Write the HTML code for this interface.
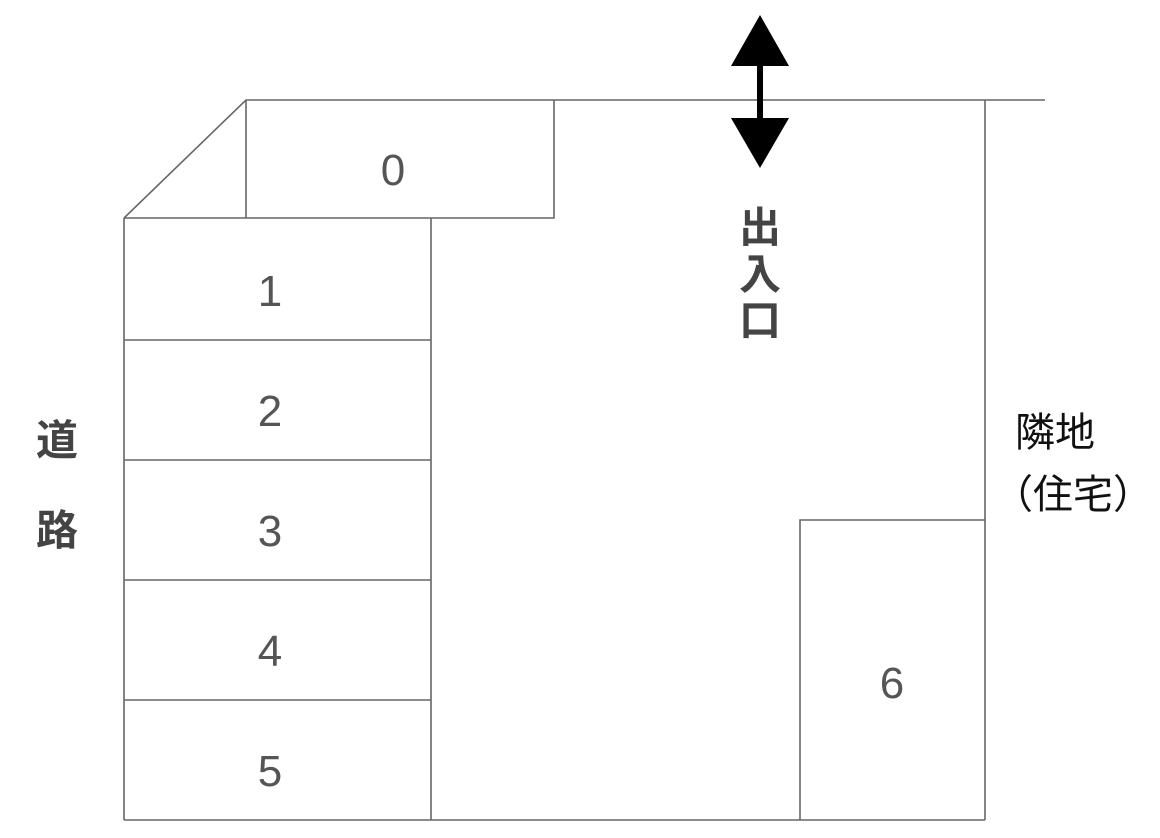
<!DOCTYPE html>
<html><head><meta charset="utf-8"><style>
html,body{margin:0;padding:0;background:#fff;}
svg{display:block;}
.n{font-family:"Liberation Sans","DejaVu Sans",sans-serif;font-size:44px;fill:#555;text-anchor:middle;}
.j{font-family:"Liberation Sans","Noto Sans CJK JP",sans-serif;font-size:42px;font-weight:bold;fill:#444;text-anchor:middle;}
.k{font-family:"Noto Sans CJK JP",sans-serif;font-size:40px;fill:#111;}
</style></head><body>
<svg width="1160" height="838" viewBox="0 0 1160 838">
<g stroke="#666" stroke-width="1.6" fill="none">
<polyline points="124,218 246,100 1045,100"/>
<line x1="246" y1="100" x2="246" y2="218"/>
<polyline points="124,218 554,218 554,100"/>
<line x1="124" y1="218" x2="124" y2="820"/>
<line x1="431" y1="218" x2="431" y2="820"/>
<line x1="124" y1="340" x2="431" y2="340"/>
<line x1="124" y1="460" x2="431" y2="460"/>
<line x1="124" y1="580" x2="431" y2="580"/>
<line x1="124" y1="700" x2="431" y2="700"/>
<line x1="124" y1="820" x2="985" y2="820"/>
<line x1="985" y1="100" x2="985" y2="820"/>
<polyline points="800,820 800,520 985,520"/>
</g>
<g fill="#000">
<polygon points="760,15 789,66 731,66"/>
<polygon points="760,168 789,118 731,118"/>
<rect x="757" y="60" width="6" height="64"/>
</g>
<text class="n" x="393" y="185">0</text>
<text class="n" x="270" y="306">1</text>
<text class="n" x="270" y="426">2</text>
<text class="n" x="270" y="546">3</text>
<text class="n" x="270" y="666">4</text>
<text class="n" x="270" y="786">5</text>
<text class="n" x="892" y="698">6</text>
<text class="j" x="760" y="242">出</text>
<text class="j" x="760" y="289">入</text>
<text class="j" x="760" y="335">口</text>
<text class="j" x="57" y="455">道</text>
<text class="j" x="57" y="545">路</text>
<text class="k" x="1015" y="446">隣地</text>
<text class="k" x="993" y="508">（住宅）</text>
</svg>
</body></html>
